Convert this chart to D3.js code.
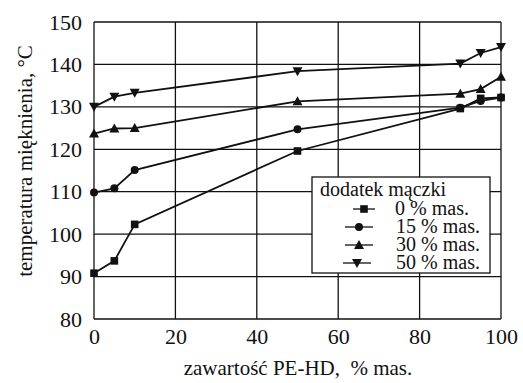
<!DOCTYPE html>
<html>
<head>
<meta charset="utf-8">
<script src="https://cdn.jsdelivr.net/npm/d3@7"></script>
</head>
<body style="margin:0">
<svg id="chart" width="523" height="383"></svg>
<script>
// PE-HD content, % mas.
const xValues = [0, 5, 10, 50, 90, 95, 100];
// softening temperature, °C, per flour addition
const s0 = [90.8, 93.7, 102.3, 119.6, 129.6, 132.0, 132.2];
const s15 = [109.8, 110.8, 115.1, 124.7, 129.8, 131.4, 132.2];
const s30 = [123.7, 124.9, 125.0, 131.3, 133.1, 134.2, 137.1];
const s50 = [130.0, 132.4, 133.3, 138.4, 140.2, 142.7, 144.1];
const seriesNames = ["0 % mas.", "15 % mas.", "30 % mas.", "50 % mas."];
const seriesSymbols = ["square", "circle", "triangle", "triangleDown"];
const xTicks = [0, 20, 40, 60, 80, 100];
const yTicks = [80, 90, 100, 110, 120, 130, 140, 150];

const series = [s0, s15, s30, s50];
const svg = d3.select("#chart");
const L = 94, R = 501, T = 22, B = 319;
const x = d3.scaleLinear().domain([0, 100]).range([L, R]);
const y = d3.scaleLinear().domain([80, 150]).range([B, T]);
const ink = "#111";
const FONT = "Liberation Serif";

// grid
const grid = svg.append("g").attr("stroke", ink).attr("stroke-width", 1.3);
grid.selectAll("line.v").data(xTicks).join("line")
  .attr("x1", d => x(d)).attr("x2", d => x(d)).attr("y1", T).attr("y2", B);
grid.selectAll("line.h").data(yTicks).join("line")
  .attr("x1", L).attr("x2", R).attr("y1", d => y(d)).attr("y2", d => y(d));

// tick labels via d3 axes
const xAxis = svg.append("g").attr("transform", `translate(0,${B})`)
  .call(d3.axisBottom(x).tickValues(xTicks).tickSize(0).tickPadding(9));
xAxis.select(".domain").remove();
xAxis.selectAll("text").style("font-family", FONT).attr("font-size", 22).attr("fill", ink);

const yAxis = svg.append("g").attr("transform", `translate(${L},0)`)
  .call(d3.axisLeft(y).tickValues(yTicks).tickSize(0).tickPadding(12));
yAxis.select(".domain").remove();
yAxis.selectAll("text").style("font-family", FONT).attr("font-size", 22).attr("fill", ink);

// axis titles
svg.append("text").attr("x", 298).attr("y", 375).attr("text-anchor", "middle")
  .style("font-family", FONT).attr("font-size", 21).attr("fill", ink)
  .text("zawartość PE-HD,\u00a0 % mas.");
svg.append("text").attr("transform", "translate(32,161) rotate(-90)").attr("text-anchor", "middle")
  .style("font-family", FONT).attr("font-size", 21).attr("fill", ink)
  .text("temperatura mięknienia, °C");

// marker shapes
function drawSymbol(g, type, cx, cy) {
  if (type === "square") {
    g.append("rect").attr("x", cx - 3.8).attr("y", cy - 3.8).attr("width", 7.6).attr("height", 7.6).attr("fill", ink);
  } else if (type === "circle") {
    g.append("circle").attr("cx", cx).attr("cy", cy).attr("r", 4).attr("fill", ink);
  } else if (type === "triangle") {
    g.append("path").attr("d", `M${cx},${cy - 5} L${cx + 5},${cy + 4} L${cx - 5},${cy + 4} Z`).attr("fill", ink);
  } else {
    g.append("path").attr("d", `M${cx},${cy + 5} L${cx + 5},${cy - 4} L${cx - 5},${cy - 4} Z`).attr("fill", ink);
  }
}

// series lines with markers
const line = d3.line().x((d, i) => x(xValues[i])).y(d => y(d));
series.forEach((vals, si) => {
  const g = svg.append("g");
  g.append("path").attr("d", line(vals)).attr("fill", "none").attr("stroke", ink).attr("stroke-width", 1.8);
  vals.forEach((v, i) => drawSymbol(g, seriesSymbols[si], x(xValues[i]), y(v)));
});

// legend
const lg = svg.append("g");
lg.append("rect").attr("x", 312).attr("y", 177).attr("width", 178).attr("height", 96)
  .attr("fill", "#fff").attr("stroke", ink).attr("stroke-width", 1.3);
lg.append("text").attr("x", 320).attr("y", 196)
  .style("font-family", FONT).attr("font-size", 20).attr("fill", ink).text("dodatek mączki");
const textRight = [469, 480, 480, 480];
const swatchStart = [353, 345, 345, 343];
seriesNames.forEach((name, i) => {
  const cy = 209 + i * 18;
  const x2 = swatchStart[i] + 22 + (i === 0 ? 0 : 6);
  lg.append("line").attr("x1", swatchStart[i]).attr("x2", x2).attr("y1", cy).attr("y2", cy)
    .attr("stroke", ink).attr("stroke-width", 1.3);
  drawSymbol(lg, seriesSymbols[i], (swatchStart[i] + x2) / 2, cy);
  lg.append("text").attr("x", textRight[i]).attr("y", cy + 6).attr("text-anchor", "end")
    .style("font-family", FONT).attr("font-size", 20).attr("fill", ink).text(name);
});
</script>
</body>
</html>
